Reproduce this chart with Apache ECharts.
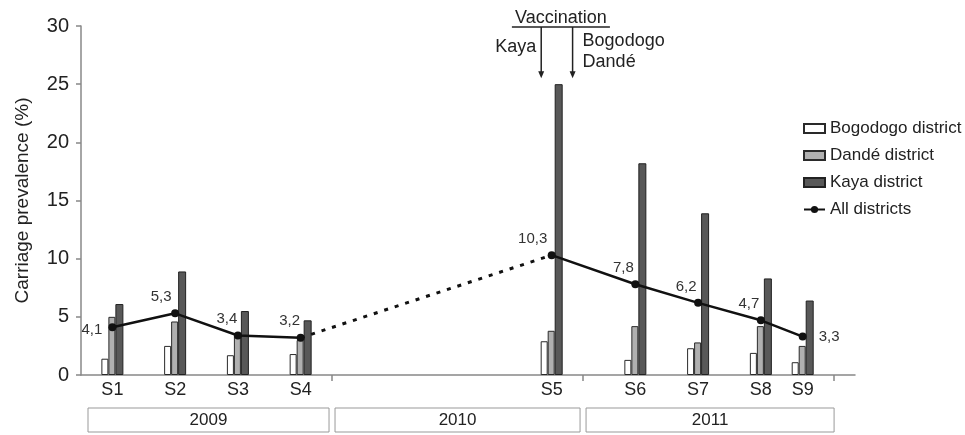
<!DOCTYPE html>
<html>
<head>
<meta charset="utf-8">
<script src="https://cdn.jsdelivr.net/npm/echarts@6/dist/echarts.min.js"></script>
<style>html,body{margin:0;padding:0;background:#fff}#c{width:965px;height:435px}</style>
</head>
<body>
<div id="c"></div>
<script>
// survey names and their time (months since Jan 2009)
const sessions = ['S1','S2','S3','S4','S5','S6','S7','S8','S9'];
const sessionMonth = [1.5, 4.5, 7.5, 10.5, 22.5, 26.5, 29.5, 32.5, 34.5];
const bogodogo = [1.4, 2.5, 1.7, 1.8, 2.9, 1.3, 2.3, 1.9, 1.1];
const dande    = [5.0, 4.6, 3.4, 3.0, 3.8, 4.2, 2.8, 4.2, 2.5];
const kaya     = [6.1, 8.9, 5.5, 4.7, 25.0, 18.2, 13.9, 8.3, 6.4];
const allDistricts = [4.1, 5.3, 3.4, 3.2, 10.3, 7.8, 6.2, 4.7, 3.3];
const years = ['2009', '2010', '2011'];
const yearStartMonth = [0, 12, 24];
const vaccKayaMonth = 22;
const vaccOtherMonth = 23.5;

const FONT = '"Liberation Sans", Arial, sans-serif';
const chart = echarts.init(document.getElementById('c'), null, {renderer: 'canvas'});

const pts = arr => arr.map((v, i) => [sessionMonth[i], v]);
const labelCfg = [
  {position: 'left', distance: 6, offset: [0, 3]},
  {position: 'top', offset: [-14, 0]},
  {position: 'top', offset: [-11, 0]},
  {position: 'top', offset: [-11, 0]},
  {position: 'top', offset: [-19, 0]},
  {position: 'top', offset: [-12, 0]},
  {position: 'top', offset: [-12, 0]},
  {position: 'top', offset: [-12, 0]},
  {position: 'right', distance: 12, offset: [0, 0]}
];
// solid line, broken between 2009 and 2010
const lineData = [];
allDistricts.forEach((v, i) => {
  lineData.push({value: [sessionMonth[i], v], label: Object.assign({show: true}, labelCfg[i])});
  if (i === 3) lineData.push({value: [(sessionMonth[3] + sessionMonth[4]) / 2, '-']});
});

const barBase = {type: 'bar', barWidth: 7, barGap: '0%', z: 2};

chart.setOption({
  animation: false,
  textStyle: {fontFamily: FONT},
  grid: {left: 81, right: 110, top: 26, bottom: 60, containLabel: false},
  legend: {
    orient: 'vertical', left: 798, top: 115,
    itemWidth: 21, itemHeight: 9, itemGap: 10,
    textStyle: {fontSize: 17, color: '#222', fontFamily: FONT},
    data: [
      {name: 'Bogodogo district', icon: 'rect'},
      {name: 'Dandé district', icon: 'rect'},
      {name: 'Kaya district', icon: 'rect'},
      {name: 'All districts'}
    ]
  },
  xAxis: {
    type: 'value', min: 0, max: 37, interval: 12,
    splitLine: {show: false},
    axisLine: {show: true, lineStyle: {color: '#888', width: 1.5}},
    axisTick: {show: true, length: 6, lineStyle: {color: '#888', width: 1.5}, customValues: [12, 24, 36]},
    axisLabel: {
      show: true, fontSize: 18, color: '#222', margin: 6,
      customValues: sessionMonth,
      formatter: v => { const i = sessionMonth.indexOf(v); return i >= 0 ? sessions[i] : ''; }
    }
  },
  yAxis: {
    type: 'value', min: 0, max: 30, interval: 5,
    name: 'Carriage prevalence (%)', nameLocation: 'middle', nameGap: 49,
    nameTextStyle: {fontSize: 19, color: '#222'},
    splitLine: {show: false},
    axisLine: {show: true, lineStyle: {color: '#888', width: 1.5}},
    axisTick: {show: true, length: 5, lineStyle: {color: '#888', width: 1.5}},
    axisLabel: {fontSize: 20, color: '#222', margin: 12}
  },
  series: [
    Object.assign({}, barBase, {name: 'Bogodogo district', data: pts(bogodogo),
      itemStyle: {color: '#ffffff', borderColor: '#2a2a2a', borderWidth: 1}}),
    Object.assign({}, barBase, {name: 'Dandé district', data: pts(dande),
      itemStyle: {color: '#b0b0b0', borderColor: '#2a2a2a', borderWidth: 1}}),
    Object.assign({}, barBase, {name: 'Kaya district', data: pts(kaya), barWidth: 8,
      itemStyle: {color: '#585858', borderColor: '#222', borderWidth: 1}}),
    {
      type: 'line', name: 'All districts-gap', z: 4, silent: true,
      data: [[sessionMonth[3], allDistricts[3]], [sessionMonth[4], allDistricts[4]]],
      symbol: 'none',
      lineStyle: {color: '#111', width: 3, type: [4, 7]}
    },
    {
      type: 'line', name: 'All districts', z: 5,
      data: lineData, connectNulls: false,
      symbol: 'circle', symbolSize: 8,
      itemStyle: {color: '#111'},
      lineStyle: {color: '#111', width: 2.5},
      label: {fontSize: 15, color: '#333', formatter: p => String(p.value[1]).replace('.', ',')}
    }
  ]
});

// decorations computed from the axes
const P = (x, y) => chart.convertToPixel({gridIndex: 0}, [x, y]);
const g = [];
const y0 = P(0, 0)[1];
years.forEach((yr, i) => {
  const xa = P(yearStartMonth[i], 0)[0] + (i === 0 ? 7 : 3);
  const xb = P(yearStartMonth[i] + 12, 0)[0] - (i === 2 ? 0 : 3);
  g.push({type: 'rect', shape: {x: xa, y: y0 + 33, width: xb - xa, height: 24},
    style: {fill: '#fff', stroke: '#999', lineWidth: 1}});
  g.push({type: 'text', x: (xa + xb) / 2, y: y0 + 45,
    style: {text: yr, fontSize: 17, fill: '#222', fontFamily: FONT, align: 'center', verticalAlign: 'middle'}});
});
const xk = P(vaccKayaMonth, 0)[0], xo = P(vaccOtherMonth, 0)[0];
const yTop = P(0, 30)[1] + 1, yEnd = P(0, 25.5)[1];
const mid = (xk + xo) / 2 + 4;
g.push({type: 'text', x: mid, y: yTop - 9,
  style: {text: 'Vaccination', fontSize: 18, fill: '#222', fontFamily: FONT, align: 'center', verticalAlign: 'middle'}});
g.push({type: 'line', shape: {x1: mid - 49, y1: yTop, x2: mid + 49, y2: yTop}, style: {stroke: '#222', lineWidth: 1.5}});
[xk, xo].forEach(x => {
  g.push({type: 'line', shape: {x1: x, y1: yTop, x2: x, y2: yEnd - 5}, style: {stroke: '#222', lineWidth: 1.5}});
  g.push({type: 'polygon', shape: {points: [[x - 3, yEnd - 7], [x + 3, yEnd - 7], [x, yEnd]]}, style: {fill: '#222'}});
});
g.push({type: 'text', x: xk - 5, y: yTop + 20,
  style: {text: 'Kaya', fontSize: 18, fill: '#222', fontFamily: FONT, align: 'right', verticalAlign: 'middle'}});
g.push({type: 'text', x: xo + 10, y: yTop + 14,
  style: {text: 'Bogodogo', fontSize: 18, fill: '#222', fontFamily: FONT, align: 'left', verticalAlign: 'middle'}});
g.push({type: 'text', x: xo + 10, y: yTop + 35,
  style: {text: 'Dandé', fontSize: 18, fill: '#222', fontFamily: FONT, align: 'left', verticalAlign: 'middle'}});
chart.setOption({graphic: g});
</script>
</body>
</html>
